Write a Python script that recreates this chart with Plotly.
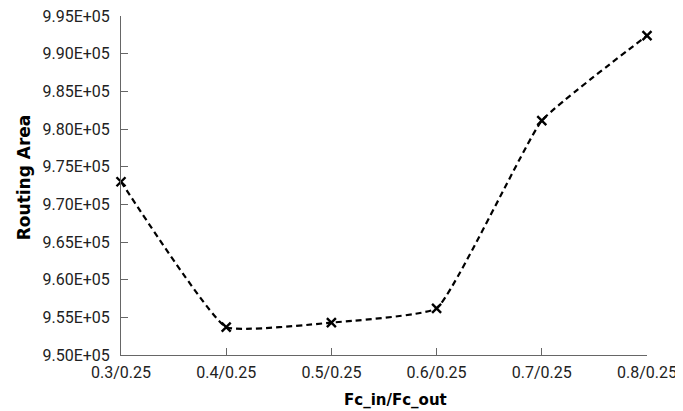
import plotly.graph_objects as go

categories = ["0.3/0.25", "0.4/0.25", "0.5/0.25", "0.6/0.25", "0.7/0.25", "0.8/0.25"]
routing_area = [973000, 953700, 954300, 956200, 981100, 992400]
y_ticks = [950000 + 5000 * i for i in range(10)]
y_tick_labels = ["%.2fE+05" % (v / 1e5) for v in y_ticks]

fig = go.Figure()
fig.add_trace(go.Scatter(
    x=list(range(len(categories))), y=routing_area, mode="lines+markers",
    line=dict(color="black", width=2.2, dash="6px,4px", shape="spline", smoothing=0.35),
    marker=dict(symbol="x-thin", size=9, line=dict(color="black", width=2.4)),
    showlegend=False, cliponaxis=False,
))
# page body has an 8px margin, so the figure is sized to fill the rest of the window
fig.update_layout(
    width=675, height=403,
    margin=dict(l=113, r=36, t=8, b=56),
    paper_bgcolor="white", plot_bgcolor="white",
    font=dict(family="Roboto", size=16, color="#222"),
    xaxis=dict(
        range=[0, 5], tickmode="array", tickvals=list(range(len(categories))), ticktext=categories,
        showline=True, linecolor="#666", linewidth=1, ticks="inside", tickcolor="#666", ticklen=7,
        showgrid=False, zeroline=False, automargin=False, ticklabeloverflow="allow",
        ticklabelstandoff=3,
    ),
    yaxis=dict(
        range=[950000, 995000], tickmode="array", tickvals=y_ticks, ticktext=y_tick_labels,
        showline=True, linecolor="#666", linewidth=1, ticks="inside", tickcolor="#666", ticklen=7,
        showgrid=False, zeroline=False, automargin=False, ticklabeloverflow="allow",
        ticklabelstandoff=7,
    ),
    annotations=[
        dict(text="<b>Fc_in/Fc_out</b>", xref="paper", yref="paper", x=0.522, y=-0.133,
             xanchor="center", yanchor="middle", showarrow=False,
             font=dict(family="DejaVu Sans", size=15, color="black")),
        dict(text="<b>Routing Area</b>", xref="paper", yref="paper", x=-0.184, y=0.525,
             xanchor="center", yanchor="middle", textangle=-90, showarrow=False,
             font=dict(family="DejaVu Sans", size=17, color="black")),
    ],
)
fig.write_html("out.html")
